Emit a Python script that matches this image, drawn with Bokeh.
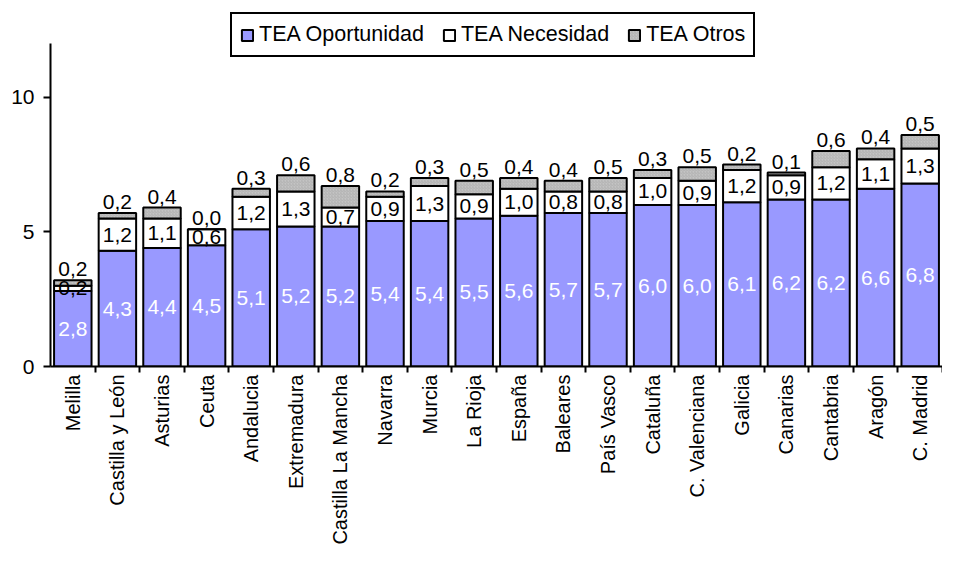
import math
from bokeh.plotting import figure
from bokeh.models import (ColumnDataSource, FixedTicker, Legend, LegendItem,
                          Range1d, LinearAxis)
from bokeh.core.properties import value
from bokeh.embed import file_html
from bokeh.resources import INLINE

categories = ["Melilla", "Castilla y León", "Asturias", "Ceuta", "Andalucia",
              "Extremadura", "Castilla La Mancha", "Navarra", "Murcia", "La Rioja",
              "España", "Baleares", "País Vasco", "Cataluña", "C. Valenciana",
              "Galicia", "Canarias", "Cantabria", "Aragón", "C. Madrid"]
oportunidad = [2.8, 4.3, 4.4, 4.5, 5.1, 5.2, 5.2, 5.4, 5.4, 5.5,
               5.6, 5.7, 5.7, 6.0, 6.0, 6.1, 6.2, 6.2, 6.6, 6.8]
necesidad = [0.2, 1.2, 1.1, 0.6, 1.2, 1.3, 0.7, 0.9, 1.3, 0.9,
             1.0, 0.8, 0.8, 1.0, 0.9, 1.2, 0.9, 1.2, 1.1, 1.3]
otros = [0.2, 0.2, 0.4, 0.0, 0.3, 0.6, 0.8, 0.2, 0.3, 0.5,
         0.4, 0.4, 0.5, 0.3, 0.5, 0.2, 0.1, 0.6, 0.4, 0.5]
y_ticks = [0, 5, 10]
y_max = 12

FONT = value("Liberation Sans")
FS = "21px"

def fmt(v):
    return f"{v:.1f}".replace(".", ",")

n = len(categories)
xs = [i + 0.5 for i in range(n)]
b1 = oportunidad
b2 = [a + b for a, b in zip(oportunidad, necesidad)]
b3 = [a + b for a, b in zip(b2, otros)]

src = ColumnDataSource(dict(
    x=xs, b1=b1, b2=b2, b3=b3,
    opo_y=[v / 2 for v in oportunidad],
    nec_y=[(a + b) / 2 for a, b in zip(b1, b2)],
    opo_t=[fmt(v) for v in oportunidad],
    nec_t=[fmt(v) for v in necesidad],
    otr_t=[fmt(v) for v in otros],
))

p = figure(width=942, height=547, output_backend="svg", toolbar_location=None,
           x_range=Range1d(0, n), y_range=Range1d(0, 13.22),
           min_border_left=50, min_border_right=0, min_border_top=10,
           min_border_bottom=150, x_axis_type=None, y_axis_type=None)
p.outline_line_color = None
p.background_fill_color = "white"
p.border_fill_color = "white"

W = 0.84
r1 = p.vbar(x="x", bottom=0, top="b1", width=W, source=src,
            fill_color="#9999FF", line_color="black", line_width=2)
r2 = p.vbar(x="x", bottom="b1", top="b2", width=W, source=src,
            fill_color="white", line_color="black", line_width=2)
r3 = p.vbar(x="x", bottom="b2", top="b3", width=W, source=src,
            fill_color="#C4C4C4", line_color="black", line_width=2,
            hatch_pattern="right_diagonal_line", hatch_scale=3,
            hatch_color="#A0A0A0", hatch_weight=0.7, hatch_alpha=0.7)

p.text(x="x", y="opo_y", text="opo_t", source=src, text_font=FONT,
       text_font_size=FS, text_color="white", text_align="center",
       text_baseline="middle")
p.text(x="x", y="nec_y", text="nec_t", source=src, text_font=FONT,
       text_font_size=FS, text_color="black", text_align="center",
       text_baseline="middle")
p.text(x="x", y="b3", text="otr_t", source=src, text_font=FONT,
       text_font_size=FS, text_color="black", text_align="center",
       text_baseline="bottom", y_offset=-4)

# y axis
yax = LinearAxis(ticker=FixedTicker(ticks=y_ticks, minor_ticks=[]),
                 bounds=(0, y_max))
yax.axis_line_width = 2
yax.axis_line_color = "black"
yax.major_tick_line_width = 2
yax.major_tick_out = 7
yax.major_tick_in = 0
yax.minor_tick_line_color = None
yax.major_label_text_font = "Liberation Sans"
yax.major_label_text_font_size = FS
yax.major_label_text_color = "black"
yax.major_label_standoff = 9
p.add_layout(yax, "left")

# x axis: labels at centers, tick marks at boundaries
xax = LinearAxis(ticker=FixedTicker(ticks=xs, minor_ticks=list(range(1, n + 1))))
xax.major_label_overrides = {x: c for x, c in zip(xs, categories)}
xax.major_label_orientation = math.pi / 2
xax.axis_line_width = 2
xax.axis_line_color = "black"
xax.major_tick_line_color = None
xax.minor_tick_line_color = "black"
xax.minor_tick_line_width = 2
xax.minor_tick_out = 6
xax.minor_tick_in = 0
xax.major_label_text_font = "Liberation Sans"
xax.major_label_text_font_size = "20px"
xax.major_label_text_color = "black"
xax.major_label_standoff = 2
p.add_layout(xax, "below")

legend = Legend(items=[
    LegendItem(label="TEA Oportunidad", renderers=[r1]),
    LegendItem(label="TEA Necesidad", renderers=[r2]),
    LegendItem(label="TEA Otros", renderers=[r3]),
], orientation="horizontal", location=(180, 309))
legend.label_text_font = "Liberation Sans"
legend.label_text_font_size = "21.5px"
legend.label_text_color = "black"
legend.glyph_width = 14
legend.glyph_height = 14
legend.label_standoff = 5
legend.spacing = 18
legend.padding = 8
legend.margin = 0
legend.border_line_color = "black"
legend.border_line_alpha = 1
legend.border_line_width = 2
legend.background_fill_color = "white"
legend.background_fill_alpha = 1
p.add_layout(legend)

open("out.html", "w").write(file_html(p, INLINE))
